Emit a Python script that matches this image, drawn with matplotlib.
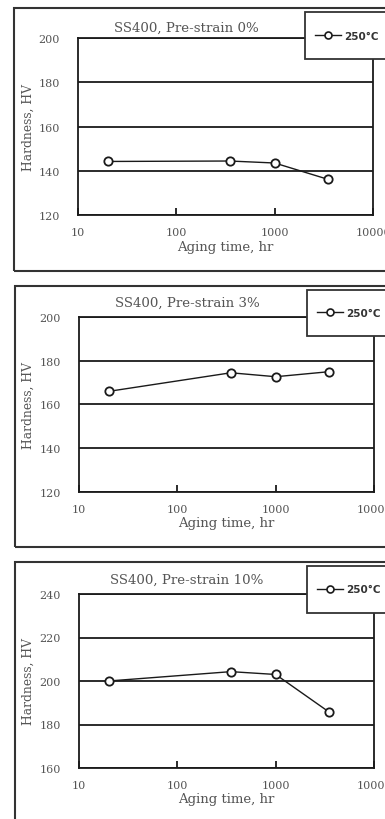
import matplotlib
matplotlib.use("Agg")
import matplotlib.pyplot as plt
from matplotlib.patches import Rectangle
from matplotlib.ticker import FixedLocator, FixedFormatter, NullLocator

# ---- data ----
aging_time = [20, 350, 1000, 3500]
hv_prestrain_0 = [144.2, 144.4, 143.5, 136.1]
hv_prestrain_3 = [166.0, 174.5, 172.7, 175.0]
hv_prestrain_10 = [200.0, 204.3, 203.0, 185.7]
titles = ["SS400, Pre-strain 0%", "SS400, Pre-strain 3%", "SS400, Pre-strain 10%"]
ylims = [(120, 200), (120, 200), (160, 240)]
yticks_list = [[120, 140, 160, 180, 200], [120, 140, 160, 180, 200], [160, 180, 200, 220, 240]]
xticks = [10, 100, 1000, 10000]
xticklabels = ["10", "100", "1000", "10000"]
legend_label = "250°C"

W, H = 385, 820
fig = plt.figure(figsize=(W / 100, H / 100), dpi=100)
fig.patch.set_facecolor("white")

serif = ["DejaVu Serif"]
txt_color = "#555555"
line_color = "#1a1a1a"

# panel geometry in pixels: (left, right, top, bottom) of axes
axes_px = [(78, 373, 39, 216), (79, 374, 318, 493), (79, 374, 595, 769)]
frame_px = [(13.5, 9, 271.5), (15, 286.5, 548), (15, 562.5, 840)]
legend_px = [(305, 13, 60), (307, 291, 337), (307, 567, 614)]
title_px = [(186, 28), (187, 303), (187, 580)]
series = [hv_prestrain_0, hv_prestrain_3, hv_prestrain_10]

for i in range(3):
    l, r, t, b = axes_px[i]
    ax = fig.add_axes([l / W, 1 - b / H, (r - l) / W, (b - t) / H])
    ax.plot(aging_time, series[i], color=line_color, lw=1.0, marker="o",
            markersize=6.0, markerfacecolor="white", markeredgecolor=line_color,
            markeredgewidth=1.3, zorder=3, clip_on=False)
    ax.set_xscale("log")
    ax.set_xlim(10, 10000)
    ax.set_ylim(*ylims[i])
    ax.xaxis.set_major_locator(FixedLocator(xticks))
    ax.xaxis.set_major_formatter(FixedFormatter(xticklabels))
    ax.xaxis.set_minor_locator(NullLocator())
    ax.set_yticks(yticks_list[i])
    ax.tick_params(axis="x", direction="in", length=5, width=1.3, color=line_color,
                   pad=9, labelsize=8, labelcolor=txt_color)
    ax.tick_params(axis="y", length=0, pad=13, labelsize=8, labelcolor=txt_color)
    for lab in ax.get_xticklabels() + ax.get_yticklabels():
        lab.set_family(serif)
    ax.grid(axis="y", color=line_color, lw=1.3)
    ax.set_axisbelow(True)
    for s in ax.spines.values():
        s.set_linewidth(1.3)
        s.set_color(line_color)
    ax.set_xlabel("Aging time, hr", fontsize=9.5, family=serif, color=txt_color)
    ax.xaxis.set_label_coords(0.5, -31 / (b - t))
    ax.xaxis.label.set_va("center")
    ax.set_ylabel("Hardness, HV", fontsize=8.8, family=serif, color=txt_color)
    ax.yaxis.set_label_coords((28 - l) / (r - l), 0.5)
    ax.yaxis.label.set_va("center")
    tx, ty = title_px[i]
    fig.text(tx / W, 1 - ty / H, titles[i], ha="center", va="center",
             fontsize=9.6, family=serif, color=txt_color)

    # outer frame
    fx, fy0, fy1 = frame_px[i]
    fig.patches.append(Rectangle((fx / W, 1 - fy1 / H), (400 - fx) / W, (fy1 - fy0) / H,
                                 transform=fig.transFigure, fill=False,
                                 edgecolor="#333333", lw=1.5, zorder=1))
    # legend box
    lx, ly0, ly1 = legend_px[i]
    fig.patches.append(Rectangle((lx / W, 1 - ly1 / H), (400 - lx) / W, (ly1 - ly0) / H,
                                 transform=fig.transFigure, facecolor="white",
                                 edgecolor="#333333", lw=1.3, zorder=2))
    h, = ax.plot([], [], color=line_color, lw=1.0, marker="o", markersize=5,
                 markerfacecolor="white", markeredgecolor=line_color, markeredgewidth=1.2)
    leg = fig.legend([h], [legend_label], loc="center left",
                     bbox_to_anchor=((lx + 10) / W, 1 - ((ly0 + ly1) / 2) / H),
                     frameon=False, handlelength=2.5, handletextpad=0.3,
                     borderpad=0, borderaxespad=0,
                     prop={"family": ["DejaVu Sans"], "weight": "bold", "size": 7.5})
    for tt in leg.get_texts():
        tt.set_color("#333333")
    leg.set_zorder(5)

fig.savefig("out.png", dpi=100, facecolor="white")
